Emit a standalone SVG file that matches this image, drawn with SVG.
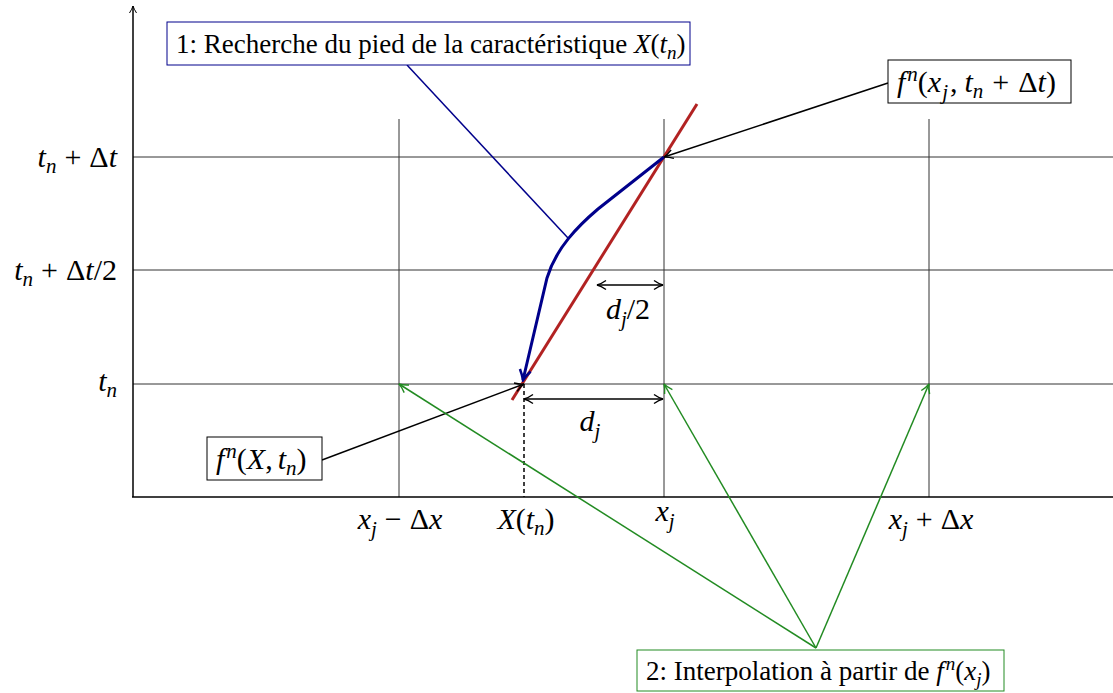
<svg xmlns="http://www.w3.org/2000/svg" width="1113" height="693" viewBox="0 0 1113 693">
<style>
text{font-family:"Liberation Serif","Times New Roman",serif;font-size:27px;fill:#000}
text.m{font-size:30px}
.i{font-style:italic}
.s{font-size:19px;font-style:italic}
text.m .s{font-size:21px}
.grid{stroke:#333;stroke-width:1;fill:none}
.axis{stroke:#000;stroke-width:1.5;fill:none}
.blk{stroke:#000;stroke-width:1.5;fill:none}
.grn{stroke:#228B22;stroke-width:1.5;fill:none}
.blu{stroke:#00008B;fill:none}
.box{fill:#fff;stroke-width:1}
</style>
<defs>
<marker id="ak" viewBox="0 0 12 12" refX="11" refY="6" markerWidth="12" markerHeight="12" markerUnits="userSpaceOnUse" orient="auto-start-reverse"><path d="M2,1.5 Q7,5 11,6 Q7,7 2,10.5" fill="none" stroke="#000" stroke-width="1.4"/></marker>
<marker id="ag" viewBox="0 0 12 12" refX="11" refY="6" markerWidth="12" markerHeight="12" markerUnits="userSpaceOnUse" orient="auto"><path d="M2,1.5 Q7,5 11,6 Q7,7 2,10.5" fill="none" stroke="#228B22" stroke-width="1.4"/></marker>
<marker id="ab" viewBox="0 0 14 14" refX="12" refY="7" markerWidth="14" markerHeight="14" markerUnits="userSpaceOnUse" orient="auto"><path d="M2,1.5 Q8,5.5 12,7 Q8,8.5 2,12.5" fill="none" stroke="#00008B" stroke-width="2.5"/></marker>
<marker id="ax" viewBox="0 0 10 10" refX="9" refY="5" markerWidth="10" markerHeight="10" markerUnits="userSpaceOnUse" orient="auto"><path d="M2,1.5 Q6,4 9,5 Q6,6 2,8.5" fill="none" stroke="#000" stroke-width="1"/></marker>
</defs>

<g id="grid">
<line class="grid" x1="133" y1="157" x2="1113" y2="157"/>
<line class="grid" x1="133" y1="270" x2="1113" y2="270"/>
<line class="grid" x1="133" y1="384" x2="1113" y2="384"/>
<line class="grid" x1="399" y1="119" x2="399" y2="497"/>
<line class="grid" x1="664" y1="119" x2="664" y2="497"/>
<line class="grid" x1="929" y1="119" x2="929" y2="497"/>
</g>

<g id="axes">
<line class="axis" x1="133" y1="497" x2="133" y2="6" marker-end="url(#ax)"/>
<line class="axis" x1="132" y1="497" x2="1113" y2="497"/>
<line x1="524" y1="384" x2="524" y2="497" stroke="#000" stroke-width="1.5" stroke-dasharray="4,3"/>
</g>

<g id="ylabels">
<text class="m" x="117" y="167" text-anchor="end"><tspan class="i">t</tspan><tspan class="s" dy="6">n</tspan><tspan dy="-6" dx="8">+</tspan><tspan dx="8">Δ</tspan><tspan class="i">t</tspan></text>
<text class="m" x="117" y="280" text-anchor="end"><tspan class="i">t</tspan><tspan class="s" dy="6">n</tspan><tspan dy="-6" dx="8">+</tspan><tspan dx="8">Δ</tspan><tspan class="i">t</tspan><tspan>/2</tspan></text>
<text class="m" x="117" y="391" text-anchor="end"><tspan class="i">t</tspan><tspan class="s" dy="6">n</tspan></text>
</g>

<g id="xlabels">
<text class="m" x="400" y="529" text-anchor="middle"><tspan class="i">x</tspan><tspan class="s" dy="7">j</tspan><tspan dy="-7" dx="8">−</tspan><tspan dx="8">Δ</tspan><tspan class="i">x</tspan></text>
<text class="m" x="526" y="529" text-anchor="middle"><tspan class="i">X</tspan><tspan>(</tspan><tspan class="i">t</tspan><tspan class="s" dy="6">n</tspan><tspan dy="-6">)</tspan></text>
<text class="m" x="665" y="521" text-anchor="middle"><tspan class="i">x</tspan><tspan class="s" dy="7">j</tspan></text>
<text class="m" x="931" y="529" text-anchor="middle"><tspan class="i">x</tspan><tspan class="s" dy="7">j</tspan><tspan dy="-7" dx="8">+</tspan><tspan dx="8">Δ</tspan><tspan class="i">x</tspan></text>
</g>

<g id="characteristic">
<line x1="512" y1="400" x2="697" y2="104" stroke="#B22222" stroke-width="3"/>
<path d="M664,157 L598,209 C578,226 556,248 547,278 L523,380" class="blu" stroke-width="3" marker-end="url(#ab)"/>
</g>

<g id="dimensions">
<line class="blk" x1="597" y1="285" x2="663" y2="285" marker-start="url(#ak)" marker-end="url(#ak)"/>
<text class="m" x="628" y="319" text-anchor="middle"><tspan class="i">d</tspan><tspan class="s" dy="7">j</tspan><tspan dy="-7">/2</tspan></text>
<line class="blk" x1="524" y1="399" x2="663" y2="399" marker-start="url(#ak)" marker-end="url(#ak)"/>
<text class="m" x="590" y="431" text-anchor="middle"><tspan class="i">d</tspan><tspan class="s" dy="7">j</tspan></text>
</g>

<g id="connectors">
<line x1="407" y1="65" x2="568" y2="238" stroke="#00008B" stroke-width="1.5"/>
<line class="blk" x1="888" y1="83" x2="664" y2="157" marker-end="url(#ak)"/>
<line class="blk" x1="322" y1="460" x2="524" y2="384" marker-end="url(#ak)"/>
<line class="grn" x1="816" y1="648" x2="399" y2="384" marker-end="url(#ag)"/>
<line class="grn" x1="816" y1="648" x2="664" y2="384" marker-end="url(#ag)"/>
<line class="grn" x1="816" y1="648" x2="929" y2="384" marker-end="url(#ag)"/>
</g>

<g id="label1">
<rect class="box" x="167" y="22" width="523" height="43" stroke="#00008B"/>
<text x="176" y="53"><tspan>1: Recherche du pied de la caractéristique </tspan><tspan class="i">X</tspan><tspan>(</tspan><tspan class="i">t</tspan><tspan class="s" dy="6">n</tspan><tspan dy="-6">)</tspan></text>
</g>

<g id="label-ftop">
<rect class="box" x="888" y="60" width="183" height="43" stroke="#000"/>
<text class="m" x="897" y="92"><tspan class="i">f</tspan><tspan class="s" dy="-11" dx="2">n</tspan><tspan dy="11">(</tspan><tspan class="i">x</tspan><tspan class="s" dy="7" dx="1">j</tspan><tspan dy="-7" dx="2">,</tspan><tspan class="i" dx="7">t</tspan><tspan class="s" dy="6">n</tspan><tspan dy="-6" dx="9">+</tspan><tspan dx="9">Δ</tspan><tspan class="i">t</tspan><tspan>)</tspan></text>
</g>

<g id="label-fX">
<rect class="box" x="207" y="437" width="115" height="43" stroke="#000"/>
<text class="m" x="216" y="469"><tspan class="i">f</tspan><tspan class="s" dy="-11" dx="2">n</tspan><tspan dy="11">(</tspan><tspan class="i">X</tspan><tspan>,</tspan><tspan class="i" dx="5">t</tspan><tspan class="s" dy="6">n</tspan><tspan dy="-6">)</tspan></text>
</g>

<g id="label2">
<rect class="box" x="637" y="650" width="367" height="41" stroke="#228B22"/>
<text x="646" y="680"><tspan>2: Interpolation à partir de </tspan><tspan class="i">f</tspan><tspan class="s" dy="-10" dx="2">n</tspan><tspan dy="10">(</tspan><tspan class="i">x</tspan><tspan class="s" dy="6">j</tspan><tspan dy="-6">)</tspan></text>
</g>
</svg>
